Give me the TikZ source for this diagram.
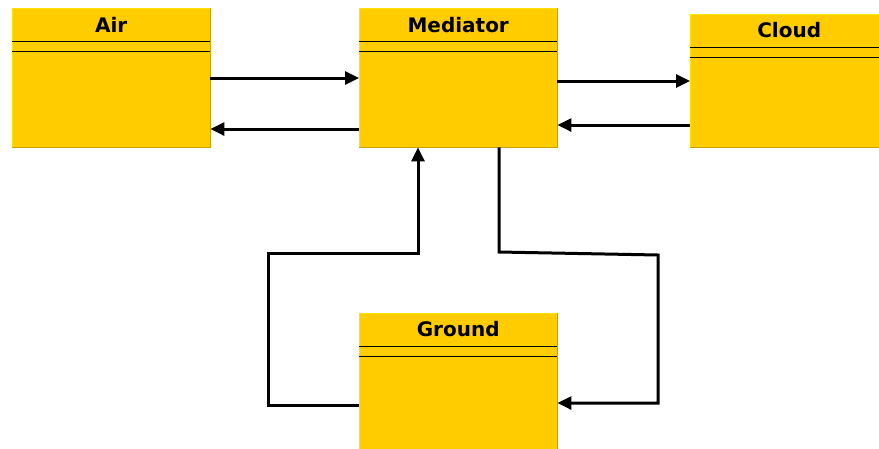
\documentclass[tikz,border=0pt]{standalone}
\usepackage{fontspec}
\setmainfont{DejaVu Sans}
\usetikzlibrary{arrows.meta}
\definecolor{boxfill}{HTML}{FFCC00}
\definecolor{edgelight}{HTML}{FFE200}
\definecolor{edgedark}{HTML}{C9A100}
\tikzset{
  classbox/.style={fill=boxfill, draw=none, anchor=north west, inner sep=0pt,
                   minimum width=198pt},
  classtitle/.style={anchor=base, inner sep=0pt,
                     font=\fontsize{20}{24}\selectfont\bfseries},
  conn/.style={line width=3pt, -{Triangle[length=14pt,width=13pt]}},
  sep/.style={line width=0.85pt, black},
}
% class box: name, top-left x, top-left y, height, title, title baseline offset
\newcommand{\classbox}[6]{%
  \node[classbox, minimum height=#4pt] (#1) at (#2,#3) {};
  \draw[edgelight, line width=0.8pt] (#1.south west) -- (#1.north west) -- (#1.north east);
  \draw[edgedark, line width=0.8pt] (#1.north east) -- (#1.south east) -- (#1.south west);
  \draw[sep] ([yshift=-33pt]#1.north west) -- ([yshift=-33pt]#1.north east);
  \draw[sep] ([yshift=-43pt]#1.north west) -- ([yshift=-43pt]#1.north east);
  \node[classtitle] (#1-title) at ([yshift=-#6pt]#1.north) {#5};
}
\begin{document}
\begin{tikzpicture}[x=1pt, y=-1pt]
  \useasboundingbox (0,0) rectangle (879,448);
  \clip (0,0) rectangle (879,448);

  \classbox{air}{12}{8}{139}{Air}{24}
  \classbox{med}{359}{8}{139}{Mediator}{24}
  \classbox{cloud}{690}{14}{133}{Cloud}{23.5}
  \classbox{ground}{359}{313}{139}{Ground}{23}

  % horizontal links
  \draw[conn] ([yshift=-70pt]air.north east) -- ([yshift=-70pt]med.north west);
  \draw[conn] ([yshift=-121pt]med.north west) -- ([yshift=-121pt]air.north east);
  \draw[conn] ([yshift=-73pt]med.north east) -- ([yshift=-67pt]cloud.north west);
  \draw[conn] ([yshift=-111pt]cloud.north west) -- ([yshift=-117pt]med.north east);

  % bend points of the two lower links
  \coordinate (gl1) at (268,405);
  \coordinate (gl2) at (268,253);
  \coordinate (gl3) at (418,253);
  \coordinate (mr1) at (499,252);
  \coordinate (mr2) at (658,255);
  \coordinate (mr3) at (658,403);

  \draw[conn] ([yshift=-92pt]ground.north west) -- (gl1) -- (gl2) -- (gl3)
              -- ([xshift=59pt]med.south west);
  \draw[conn] ([xshift=140pt]med.south west) -- (mr1) -- (mr2) -- (mr3)
              -- ([yshift=-90pt]ground.north east);
\end{tikzpicture}
\end{document}
